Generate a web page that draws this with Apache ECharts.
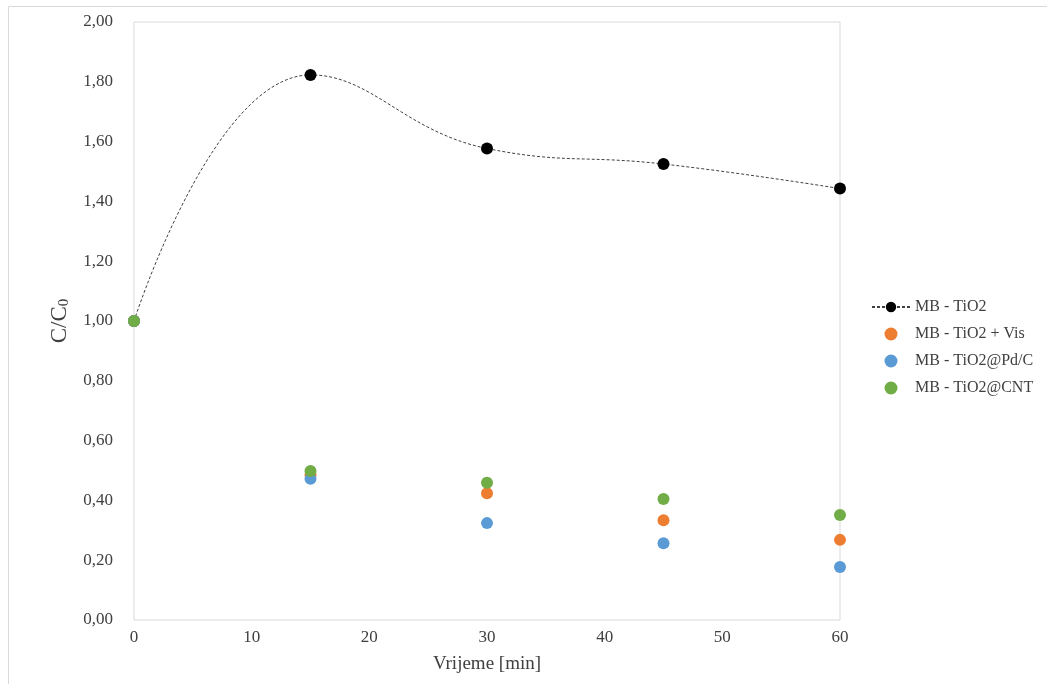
<!DOCTYPE html>
<html><head><meta charset="utf-8">
<script src="https://cdn.jsdelivr.net/npm/echarts@6/dist/echarts.min.js"></script>
<style>html,body{margin:0;padding:0;background:#fff}#c{width:1047px;height:684px}</style>
</head><body><div id="c"></div>
<script>
var times = [0, 15, 30, 45, 60];
var tio2 = [1.00, 1.823, 1.577, 1.525, 1.443];
var tio2Vis = [1.00, 0.485, 0.424, 0.334, 0.268];
var tio2PdC = [1.00, 0.472, 0.324, 0.257, 0.177];
var tio2CNT = [1.00, 0.498, 0.459, 0.405, 0.351];
var seriesNames = ['MB - TiO2', 'MB - TiO2 + Vis', 'MB - TiO2@Pd/C', 'MB - TiO2@CNT'];

function pairs(v){ return times.map(function(t,i){ return [t, v[i]]; }); }
var font = '"Liberation Serif","Times New Roman",serif';
var chart = echarts.init(document.getElementById('c'));
chart.setOption({
  animation: false,
  textStyle: {fontFamily: font},
  graphic: [{type:'rect', shape:{x:8.5,y:6.5,width:1060,height:700}, style:{fill:'none', stroke:'#d9d9d9', lineWidth:1}, silent:true}],
  grid: {left:134, right:207, top:22, bottom:64, show:true, borderColor:'#d9d9d9', borderWidth:1},
  xAxis: {type:'value', min:0, max:60, interval:10,
    name:'Vrijeme [min]', nameLocation:'middle', nameGap:35,
    nameTextStyle:{fontFamily:font, fontSize:19, color:'#404040'},
    axisLine:{show:false}, axisTick:{show:false}, splitLine:{show:false},
    axisLabel:{fontFamily:font, fontSize:17, color:'#404040', margin:9}},
  yAxis: {type:'value', min:0, max:2, interval:0.2,
    name:'C/C{sub|0}', nameLocation:'middle', nameGap:62, nameRotate:90,
    nameTextStyle:{fontFamily:font, fontSize:23, color:'#404040',
      rich:{sub:{fontFamily:font, fontSize:15, color:'#404040', verticalAlign:'bottom', padding:[9,0,0,0]}}},
    axisLine:{show:false}, axisTick:{show:false}, splitLine:{show:false},
    axisLabel:{fontFamily:font, fontSize:17, color:'#404040', margin:21,
      formatter:function(v){ return v.toFixed(2).replace('.', ','); }}},
  legend: {orient:'vertical', left:866, top:294, itemGap:11, itemWidth:38, itemHeight:13,
    textStyle:{fontFamily:font, fontSize:16, color:'#404040'},
    data: seriesNames},
  series: [
    {name:seriesNames[0], type:'line', data:pairs(tio2), smooth:0.45, symbol:'circle', symbolSize:12,
      lineStyle:{color:'#404040', width:1, type:[3,2]}, itemStyle:{color:'#000'}, z:2},
    {name:seriesNames[1], type:'scatter', data:pairs(tio2Vis), symbolSize:12, itemStyle:{color:'#ED7D31', opacity:1}, z:3},
    {name:seriesNames[2], type:'scatter', data:pairs(tio2PdC), symbolSize:12, itemStyle:{color:'#5B9BD5', opacity:1}, z:4},
    {name:seriesNames[3], type:'scatter', data:pairs(tio2CNT), symbolSize:12, itemStyle:{color:'#70AD47', opacity:1}, z:5}
  ]
});
</script></body></html>
